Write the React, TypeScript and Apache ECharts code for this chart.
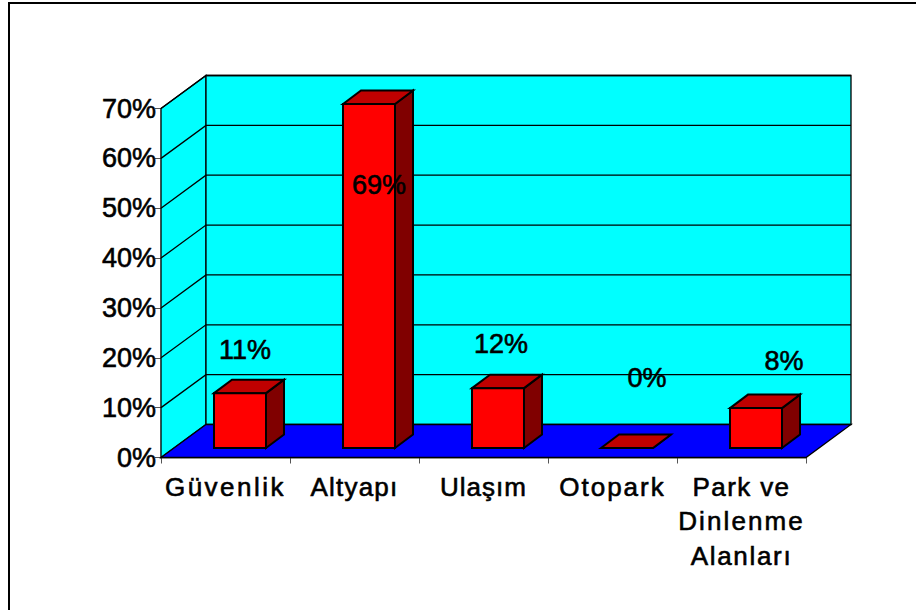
import React, { useEffect, useRef } from "react";
import * as echarts from "echarts";

const categories = ["Güvenlik", "Altyapı", "Ulaşım", "Otopark", "Park ve\nDinlenme\nAlanları"];
const values = [11, 69, 12, 0, 8];
const gridValues = [0, 10, 20, 30, 40, 50, 60, 70];
// label placement relative to the top-centre of each bar: [dx, dy]
const labelShifts = [[5, -43], [10, 81], [3, -44], [20, -70], [28, -47]];
const letterSpacings: Record<string, string> = {
  "Güvenlik": "2.5px",
  "Altyapı": "1.2px",
  "Ulaşım": "1px",
  "Otopark": "2px",
  "Park ve": "1.4px",
  "Dinlenme": "2.1px",
  "Alanları": "1.7px",
};

const FONT = '"Liberation Sans", Arial, sans-serif';
const WALL_DX = 45;
const WALL_DY = -33;
const BAR_OFFSET_X = 14.5;
const BAR_OFFSET_Y = -9.5;
const BAR_DX = 18;
const BAR_DY = -13.5;
const BAR_WIDTH = 52;
const INK = { stroke: "#000", lineWidth: 1.3 };

function renderWalls(params: any, api: any) {
  const cs = params.coordSys;
  const left = cs.x;
  const right = cs.x + cs.width;
  const v = api.value(0);
  const y = api.coord([0, v])[1];
  const bottom = cs.y + cs.height;
  const top = cs.y;
  const children: any[] = [];
  if (v === 0) {
    children.push({
      type: "polygon",
      shape: { points: [[left, top], [left + WALL_DX, top + WALL_DY], [left + WALL_DX, bottom + WALL_DY], [left, bottom]] },
      style: { fill: "#00ffff", ...INK },
    });
    children.push({
      type: "rect",
      shape: { x: left + WALL_DX, y: top + WALL_DY, width: cs.width, height: cs.height },
      style: { fill: "#00ffff", stroke: "#000", lineWidth: 1.3 },
    });
    children.push({
      type: "polygon",
      shape: { points: [[left, bottom], [left + WALL_DX, bottom + WALL_DY], [right + WALL_DX, bottom + WALL_DY], [right, bottom]] },
      style: { fill: "#0000ff", ...INK },
    });
  } else {
    children.push({
      type: "polyline",
      shape: { points: [[left, y], [left + WALL_DX, y + WALL_DY], [right + WALL_DX, y + WALL_DY]] },
      style: { fill: "none", ...INK },
    });
  }
  return { type: "group", children };
}

function renderBar(params: any, api: any) {
  const i = api.value(0);
  const v = api.value(1);
  const base = api.coord([i, 0]);
  const topPt = api.coord([i, v]);
  const x0 = base[0] + BAR_OFFSET_X - BAR_WIDTH / 2;
  const x1 = x0 + BAR_WIDTH;
  const yb = base[1] + BAR_OFFSET_Y;
  const yt = topPt[1] + BAR_OFFSET_Y;
  const line = { stroke: "#000", lineWidth: 2, lineJoin: "miter" };
  const shift = labelShifts[i];
  return {
    type: "group",
    children: [
      {
        type: "polygon",
        shape: { points: [[x1, yb], [x1 + BAR_DX, yb + BAR_DY], [x1 + BAR_DX, yt + BAR_DY], [x1, yt]] },
        style: { fill: "#800000", ...line },
      },
      {
        type: "polygon",
        shape: { points: [[x0, yt], [x0 + BAR_DX, yt + BAR_DY], [x1 + BAR_DX, yt + BAR_DY], [x1, yt]] },
        style: { fill: "#c00000", ...line },
      },
      {
        type: "rect",
        shape: { x: x0, y: yt, width: BAR_WIDTH, height: yb - yt },
        style: { fill: "#ff0000", ...line },
      },
      {
        type: "text",
        x: (x0 + x1) / 2 + shift[0],
        y: yt + shift[1],
        style: {
          text: `${v}%`,
          fill: "#000",
          font: `27px ${FONT}`,
          align: "center",
          verticalAlign: "middle",
          stroke: "#000",
          lineWidth: 0.6,
        },
      },
    ],
  };
}

export default function App() {
  const ref = useRef<HTMLDivElement>(null);
  useEffect(() => {
    const chart = echarts.init(ref.current!, undefined, { renderer: "svg" });
    chart.setOption({
      animation: false,
      backgroundColor: "#fff",
      graphic: {
        elements: [
          {
            type: "rect",
            z: 0,
            shape: { x: 9, y: 3, width: 1000, height: 1000 },
            style: { fill: "none", stroke: "#000", lineWidth: 2 },
          },
        ],
      },
      grid: { left: 161, top: 108.5, right: 110, bottom: 152.5, containLabel: false },
      xAxis: {
        type: "category",
        data: categories,
        boundaryGap: true,
        axisLine: { show: true, lineStyle: { color: "#000", width: 1.3 } },
        axisTick: { show: true, length: 6, lineStyle: { color: "#555", width: 1 } },
        axisLabel: {
          interval: 0,
          margin: 12,
          color: "#000",
          fontSize: 26,
          lineHeight: 34.5,
          fontFamily: FONT,
          textBorderColor: "#000",
          textBorderWidth: 0.6,
        },
      },
      yAxis: {
        type: "value",
        min: 0,
        max: 70,
        interval: 10,
        axisLine: { show: true, lineStyle: { color: "#000", width: 1.3 } },
        axisTick: { show: true, length: 6, lineStyle: { color: "#555", width: 1 } },
        splitLine: { show: false },
        axisLabel: {
          margin: 5,
          color: "#000",
          fontSize: 27,
          fontFamily: FONT,
          padding: [6, 0, 0, 0],
          textBorderColor: "#000",
          textBorderWidth: 0.6,
          formatter: "{value}%",
        },
      },
      series: [
        {
          type: "custom",
          name: "walls",
          coordinateSystem: "cartesian2d",
          clip: false,
          silent: true,
          z: 1,
          data: gridValues.map((v) => [v]),
          encode: { y: 0 },
          renderItem: renderWalls,
        },
        {
          type: "custom",
          name: "bars",
          coordinateSystem: "cartesian2d",
          clip: false,
          silent: true,
          z: 2,
          data: values.map((v, i) => [i, v]),
          encode: { x: 0, y: 1 },
          renderItem: renderBar,
        },
      ],
    });
    ref.current!.querySelectorAll("text").forEach((t) => {
      const s = letterSpacings[(t.textContent || "").trim()];
      if (s) (t as SVGTextElement).style.letterSpacing = s;
    });
    return () => chart.dispose();
  }, []);
  return (
    <div
      ref={ref}
      style={{ position: "absolute", left: 0, top: 0, width: 916, height: 610 }}
    />
  );
}
